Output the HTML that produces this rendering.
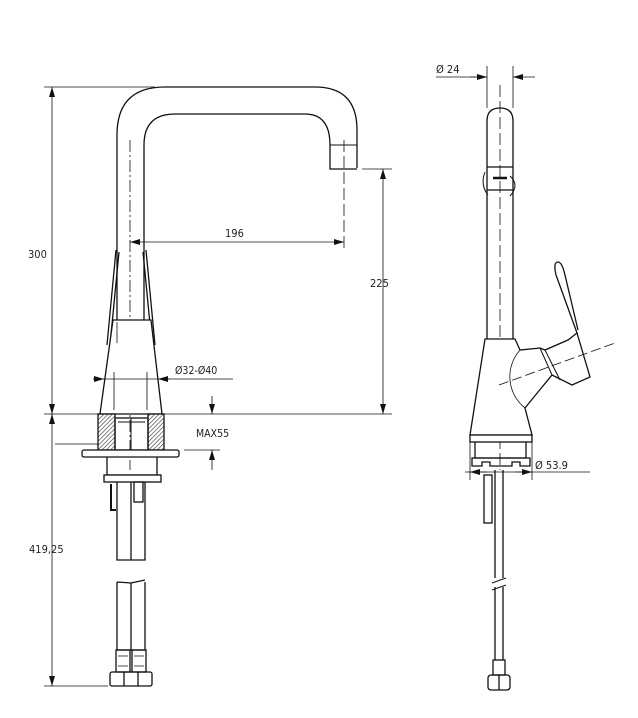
<!DOCTYPE html>
<html><head><meta charset="utf-8"><style>
html,body{margin:0;padding:0;background:#fff}
svg{display:block}
text{font-family:"DejaVu Sans Condensed","Liberation Sans",sans-serif;fill:#222}
</style></head><body>
<svg width="638" height="718" viewBox="0 0 638 718" xmlns="http://www.w3.org/2000/svg">
<defs>
<marker id="a" viewBox="0 0 10 6" refX="10" refY="3" markerWidth="10" markerHeight="6" orient="auto-start-reverse" markerUnits="userSpaceOnUse"><path d="M0,0 L10,3 L0,6 z" fill="#111"/></marker>
<pattern id="h" width="3" height="3" patternUnits="userSpaceOnUse" patternTransform="rotate(45)"><rect width="3" height="3" fill="#fff"/><line x1="0" y1="0" x2="0" y2="3" stroke="#333" stroke-width="1.2"/></pattern>
</defs>
<g fill="none" stroke="#111" stroke-width="1.3">
<!-- LEFT VIEW -->
<!-- dims -->
<line x1="44" y1="87" x2="155" y2="87" stroke-width="0.8"/>
<line x1="52" y1="87" x2="52" y2="414" stroke-width="0.8" marker-start="url(#a)" marker-end="url(#a)"/>
<line x1="44" y1="414" x2="392" y2="414" stroke-width="0.8"/>
<line x1="52" y1="414" x2="52" y2="686" stroke-width="0.8" marker-start="url(#a)" marker-end="url(#a)"/>
<line x1="44" y1="686" x2="108" y2="686" stroke-width="0.8"/>
<line x1="55" y1="444" x2="100" y2="444" stroke-width="0.8"/>
<!-- spout -->
<path d="M117,414 L117,135 Q117,87 165,87 L315,87 Q357,87 357,130 L357,168"/>
<path d="M144,320 L144,145 Q144,114 175,114 L305,114 Q330,114 330,145 L330,169 L357,169"/>
<line x1="330" y1="145" x2="357" y2="145" stroke-width="1"/>
<line x1="344" y1="140" x2="344" y2="250" stroke-width="0.8" stroke-dasharray="12,4"/>
<line x1="130" y1="140" x2="130" y2="470" stroke-width="0.8" stroke-dasharray="12,3,2,3"/>
<line x1="130" y1="242" x2="344" y2="242" stroke-width="0.8" marker-start="url(#a)" marker-end="url(#a)"/>
<line x1="362" y1="169" x2="392" y2="169" stroke-width="0.8"/>
<line x1="383" y1="169" x2="383" y2="414" stroke-width="0.8" marker-start="url(#a)" marker-end="url(#a)"/>
<!-- lever side lines -->
<path d="M116,250 L107,345 M119,252 L110,345 M146,250 L155,345 M143,252 L152,345"/>
<!-- body -->
<path d="M113,320 L151,320 L162,414 L100,414 Z" fill="#fff"/>
<line x1="117" y1="322" x2="117" y2="343" stroke-width="0.8"/>
<line x1="114" y1="372" x2="114" y2="410" stroke-width="0.8"/>
<line x1="147" y1="372" x2="147" y2="410" stroke-width="0.8"/>
<line x1="93" y1="379" x2="104" y2="379" stroke-width="0.8" marker-end="url(#a)"/>
<line x1="104" y1="379" x2="158" y2="379" stroke-width="0.8"/>
<line x1="170" y1="379" x2="158" y2="379" stroke-width="0.8" marker-end="url(#a)"/>
<line x1="158" y1="379" x2="233" y2="379" stroke-width="0.8"/>
<!-- nut block -->
<rect x="98" y="414" width="17" height="36" fill="url(#h)"/>
<rect x="148" y="414" width="16" height="36" fill="url(#h)"/>
<rect x="115" y="418" width="33" height="32"/>
<line x1="118" y1="422" x2="145" y2="422" stroke-width="1"/>
<line x1="131" y1="418" x2="131" y2="450" stroke-width="1"/>
<rect x="82" y="450" width="97" height="7" rx="2" fill="#fff"/>
<path d="M107,457 L107,475 L157,475 L157,457"/>
<rect x="104" y="475" width="57" height="7" fill="#fff"/>
<!-- hoses -->
<path d="M117,482 L117,560 L145,560 L145,482 M131,482 L131,560"/>
<path d="M111,484 L111,510 L116,510" stroke-width="2"/>
<rect x="134" y="482" width="9" height="20"/>
<path d="M117,582 L117,650 L145,650 L145,582 M131,583 L131,650 M117,582 L131,583 L145,580"/>
<rect x="116" y="650" width="14" height="22"/>
<rect x="132" y="650" width="14" height="22"/>
<path d="M118,656 h10 M118,666 h10 M134,656 h10 M134,666 h10" stroke-width="0.8"/>
<rect x="110" y="672" width="42" height="14" rx="2"/>
<line x1="124" y1="672" x2="124" y2="686"/>
<line x1="138" y1="672" x2="138" y2="686"/>
<!-- MAX55 -->
<line x1="212" y1="396" x2="212" y2="414" stroke-width="0.8" marker-end="url(#a)"/>
<line x1="212" y1="470" x2="212" y2="450" stroke-width="0.8" marker-end="url(#a)"/>
<line x1="184" y1="450" x2="220" y2="450" stroke-width="0.8"/>

<!-- RIGHT VIEW -->
<line x1="487" y1="66" x2="487" y2="108" stroke-width="0.8"/>
<line x1="513" y1="66" x2="513" y2="108" stroke-width="0.8"/>
<line x1="436" y1="77" x2="487" y2="77" stroke-width="0.8"/>
<line x1="470" y1="77" x2="487" y2="77" stroke-width="0.8" marker-end="url(#a)"/>
<line x1="535" y1="77" x2="513" y2="77" stroke-width="0.8" marker-end="url(#a)"/>
<path d="M487,339 L487,121 Q487,108 500,108 Q513,108 513,121 L513,339"/>
<line x1="500" y1="85" x2="500" y2="470" stroke-width="0.8" stroke-dasharray="12,4"/>
<path d="M487,167 H513 M487,190 H513"/>
<path d="M493,178 H507" stroke-width="2.5"/>
<path d="M485,172 Q480,185 488,195 M510,176 Q520,185 510,196" stroke-width="1"/>
<!-- body -->
<path d="M485,339 L515,339 L520,350 L540,348 L545,350 L568,340 L577,333 L590,377 L572,385 L552,375 L538,392 L525,408 L532,435 L470,435 Z" fill="#fff"/>
<path d="M558,262 Q553,262 556,275 L577,333" />
<path d="M558,262 Q562,262 565,275 L578,330"/>
<path d="M520,350 A40,40 0 0 0 525,408" stroke-width="0.8"/>
<path d="M540,348 L552,375 M545,350 L560,380" stroke-width="1"/>
<line x1="499" y1="385" x2="615" y2="343" stroke-width="0.8" stroke-dasharray="10,4"/>
<rect x="470" y="435" width="62" height="7" fill="#fff"/>
<path d="M475,442 L475,458 L526,458 L526,442"/>
<path d="M472,458 H530 V466 H520 V462 H512 V466 H490 V462 H482 V466 H472 Z"/>
<line x1="470" y1="442" x2="470" y2="480" stroke-width="0.8"/>
<line x1="532" y1="442" x2="532" y2="480" stroke-width="0.8"/>
<line x1="465" y1="472" x2="532" y2="472" stroke-width="0.8"/>
<line x1="470" y1="472" x2="487" y2="472" stroke-width="0.8" marker-start="url(#a)"/>
<line x1="532" y1="472" x2="515" y2="472" stroke-width="0.8" marker-start="url(#a)"/>
<line x1="532" y1="472" x2="590" y2="472" stroke-width="0.8"/>
<!-- pipe -->
<rect x="484" y="475" width="8" height="48"/>
<path d="M495,470 L495,578 M503,470 L503,578 M495,587 L495,660 M503,587 L503,660"/>
<path d="M492,583 L506,578 M492,590 L506,585" stroke-width="1"/>
<rect x="493" y="660" width="12" height="15"/>
<rect x="488" y="675" width="22" height="15" rx="3"/>
<line x1="499" y1="675" x2="499" y2="690"/>
</g>
<g font-size="11">
<text x="28" y="258">300</text>
<text x="225" y="237">196</text>
<text x="370" y="287">225</text>
<text x="29" y="553">419,25</text>
<text x="175" y="374" font-size="10.5">Ø32-Ø40</text>
<text x="196" y="437" font-family="Liberation Sans, sans-serif" font-size="10.5">MAX55</text>
<text x="436" y="73">Ø 24</text>
<text x="535" y="469">Ø 53.9</text>
</g>
</svg>
</body></html>
